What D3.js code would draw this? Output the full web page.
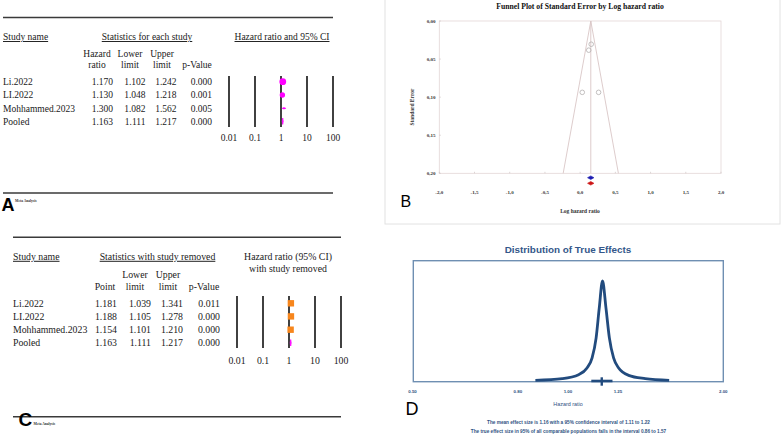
<!DOCTYPE html>
<html>
<head>
<meta charset="utf-8">
<script src="https://cdn.jsdelivr.net/npm/d3@7"></script>
<style>
  html, body { margin: 0; padding: 0; background: #fff; }
  svg { display: block; }
</style>
</head>
<body>
<svg id="chart" width="784" height="442"></svg>
<script>
// ---------------- DATA ----------------
// Panel A: statistics for each study
const studiesA = ["Li.2022", "LI.2022", "Mohhammed.2023", "Pooled"];
const hrA = [1.170, 1.130, 1.300, 1.163];
const lowerA = [1.102, 1.048, 1.082, 1.111];
const upperA = [1.242, 1.218, 1.562, 1.217];
const pA = ["0.000", "0.001", "0.005", "0.000"];
const weightsA = [57.6, 36.3, 6.1];

// Panel C: statistics with study removed
const studiesC = ["Li.2022", "LI.2022", "Mohhammed.2023", "Pooled"];
const pointC = [1.181, 1.188, 1.154, 1.163];
const lowerC = [1.039, 1.105, 1.101, 1.111];
const upperC = [1.341, 1.278, 1.210, 1.217];
const pC = ["0.011", "0.000", "0.000", "0.000"];

const forestTicks = [0.01, 0.1, 1, 10, 100];

// Panel B: funnel plot
const funnelLogHR = [0.157, 0.122, 0.262, 0.030];
const funnelSE = [0.0305, 0.0383, 0.0937, 0.0937];
const funnelMean = 0.151;
const funnelBottomLeft = -0.241;
const funnelBottomRight = 0.543;
const funnelSEmax = 0.20;
const pooledLogCI = [0.105, 0.196];
const funnelXTicks = [-2.0, -1.5, -1.0, -0.5, 0.0, 0.5, 1.0, 1.5, 2.0];
const funnelYTicks = [0.00, 0.05, 0.10, 0.15, 0.20];

// Panel D: distribution of true effects
const curveHR = [0.865, 0.975, 1.049, 1.089, 1.114, 1.134, 1.150, 1.167, 1.185, 1.203, 1.226, 1.254, 1.311, 1.412, 1.571];
const curveDensity = [0.0, 0.017, 0.057, 0.124, 0.225, 0.425, 0.726, 1.0, 0.729, 0.43, 0.225, 0.124, 0.05, 0.017, 0.0];
const distTicks = [0.5, 0.8, 1.0, 1.25, 2.0];
const distTickLabels = ["0.50", "0.80", "1.00", "1.25", "2.00"];
const meanEffect = 1.163;
const meanCI = [1.11, 1.22];

// ---------------- DRAW ----------------
const svg = d3.select("#chart");
const SERIF = "'Liberation Serif', 'Times New Roman', serif";
const SANS = "'Liberation Sans', Arial, sans-serif";

svg.append("rect").attr("width", 784).attr("height", 442).attr("fill", "#fff");

function drawForest(o) {
  const g = svg.append("g");
  const txt = (x, y, s, anchor, extra) => {
    const t = g.append("text").attr("x", x).attr("y", y).text(s)
      .attr("font-family", SERIF).attr("font-size", o.fs).attr("fill", "#1a1a1a")
      .attr("text-anchor", anchor || "start");
    if (extra) extra(t);
    return t;
  };
  const ul = t => t.attr("text-decoration", "underline");

  g.append("line").attr("x1", o.x0).attr("x2", o.x1).attr("y1", o.ruleTop).attr("y2", o.ruleTop)
    .attr("stroke", "#3a3a3a").attr("stroke-width", 1.6);
  g.append("line").attr("x1", o.x0).attr("x2", o.x1).attr("y1", o.ruleBottom).attr("y2", o.ruleBottom)
    .attr("stroke", "#3a3a3a").attr("stroke-width", 1.6);

  txt(o.x0, o.headY, "Study name", "start", ul);
  txt(o.groupX, o.headY, o.groupTitle, "middle", ul);
  o.plotTitle.forEach((s, i) => txt(o.plotTitleX, o.headY + i * 12.3, s, "middle", o.plotUnderline ? ul : null));

  o.cols.forEach(c => {
    c.head.forEach((h, i) => {
      const y = c.head.length === 2 ? o.sub1 + i * (o.sub2 - o.sub1) : o.sub2;
      txt(c.center, y, h, "middle");
    });
  });

  o.names.forEach((n, i) => {
    const y = o.rowY[i] + 3.3;
    txt(o.x0, y, n, "start");
    o.cols.forEach(c => txt(c.right, y, c.values[i], "end"));
  });

  // forest plot
  const x = d3.scaleLog().domain([0.01, 100]).range([o.fx0, o.fx1]);
  g.selectAll(null).data(forestTicks).enter().append("line")
    .attr("x1", d => x(d)).attr("x2", d => x(d))
    .attr("y1", o.vTop).attr("y2", o.vBottom)
    .attr("stroke", "#111").attr("stroke-width", 1.6);
  g.selectAll(null).data(forestTicks).enter().append("text")
    .attr("x", d => x(d)).attr("y", o.tickY).text(d => d)
    .attr("font-family", SERIF).attr("font-size", o.fs).attr("fill", "#1a1a1a")
    .attr("text-anchor", "middle");

  // study CIs
  for (let i = 0; i < 3; i++) {
    g.append("line").attr("x1", x(o.lo[i])).attr("x2", x(o.hi[i]))
      .attr("y1", o.rowY[i]).attr("y2", o.rowY[i])
      .attr("stroke", o.color).attr("stroke-width", 1);
  }
  if (o.shape === "circle") {
    const r = d3.scaleSqrt().domain([0, d3.max(o.weights)]).range([0, 3.4]);
    for (let i = 0; i < 3; i++) {
      g.append("circle").attr("cx", x(o.est[i])).attr("cy", o.rowY[i]).attr("r", Math.max(1.1, r(o.weights[i])))
        .attr("fill", o.color);
    }
  } else {
    for (let i = 0; i < 3; i++) {
      g.append("rect").attr("x", x(o.est[i]) - 3.2).attr("y", o.rowY[i] - 3.2)
        .attr("width", 6.4).attr("height", 6.4).attr("fill", o.color);
    }
  }
  // pooled diamond
  const py = o.rowY[3];
  g.append("path")
    .attr("d", `M${x(o.lo[3])},${py} L${x(o.est[3])},${py - 3.2} L${x(o.hi[3])},${py} L${x(o.est[3])},${py + 3.2} Z`)
    .attr("fill", "#ff00ff").attr("stroke", "#ff00ff").attr("stroke-width", 0.8);

  // panel letter and footer
  g.append("text").attr("x", o.metaX).attr("y", o.metaY).text("Meta Analysis")
    .attr("font-family", SERIF).attr("font-size", 3.6).attr("font-weight", "bold").attr("fill", "#333");
  g.append("text").attr("x", o.letterX).attr("y", o.letterY).text(o.letter)
    .attr("font-family", SANS).attr("font-size", o.letterSize).attr("font-weight", "bold").attr("fill", "#000");
}

drawForest({
  fs: 9.5, x0: 3, x1: 333, ruleTop: 17.5, ruleBottom: 193,
  headY: 40, groupX: 147, groupTitle: "Statistics for each study",
  plotTitle: ["Hazard ratio and 95% CI"], plotTitleX: 282, plotUnderline: true,
  sub1: 56.5, sub2: 67.8,
  cols: [
    { head: ["Hazard", "ratio"], center: 97, right: 113, values: hrA.map(d => d.toFixed(3)) },
    { head: ["Lower", "limit"], center: 130, right: 145.5, values: lowerA.map(d => d.toFixed(3)) },
    { head: ["Upper", "limit"], center: 162, right: 176.5, values: upperA.map(d => d.toFixed(3)) },
    { head: ["p-Value"], center: 197, right: 212, values: pA }
  ],
  names: studiesA, rowY: [81.7, 95, 108.3, 121.2],
  fx0: 229, fx1: 333, vTop: 76, vBottom: 127, tickY: 140.5,
  est: hrA, lo: lowerA, hi: upperA, weights: weightsA,
  shape: "circle", color: "#ff00ff",
  metaX: 15, metaY: 201.5, letter: "A", letterX: 1.5, letterY: 210.5, letterSize: 18
});

drawForest({
  fs: 9.8, x0: 13, x1: 341, ruleTop: 237.3, ruleBottom: 416.7,
  headY: 259.8, groupX: 157.5, groupTitle: "Statistics with study removed",
  plotTitle: ["Hazard ratio (95% CI)", "with study removed"], plotTitleX: 288, plotUnderline: false,
  sub1: 278.3, sub2: 289.5,
  cols: [
    { head: ["Point"], center: 105, right: 117, values: pointC.map(d => d.toFixed(3)) },
    { head: ["Lower", "limit"], center: 135, right: 151, values: lowerC.map(d => d.toFixed(3)) },
    { head: ["Upper", "limit"], center: 168, right: 183, values: upperC.map(d => d.toFixed(3)) },
    { head: ["p-Value"], center: 204, right: 220, values: pC }
  ],
  names: studiesC, rowY: [303.3, 316.4, 329.7, 342.8],
  fx0: 237, fx1: 341, vTop: 296, vBottom: 348, tickY: 363.5,
  est: pointC, lo: lowerC, hi: upperC,
  shape: "square", color: "#f7861c",
  metaX: 33.5, metaY: 424.5, letter: "C", letterX: 18.5, letterY: 426, letterSize: 19
});

// ---------------- Panel B: funnel plot ----------------
(function () {
  const g = svg.append("g");
  const commaFmt = (v, d) => v.toFixed(d).replace(".", ",");
  g.append("rect").attr("x", 385).attr("y", -1).attr("width", 395).attr("height", 225)
    .attr("fill", "none").attr("stroke", "#e2e2e2").attr("stroke-width", 1);

  const x = d3.scaleLinear().domain([-2, 2]).range([439.3, 721]);
  const y = d3.scaleLinear().domain([0, 0.2]).range([21, 173.3]);

  g.append("text").attr("x", 580).attr("y", 8.8).text("Funnel Plot of Standard Error by Log hazard ratio")
    .attr("font-family", SERIF).attr("font-size", 7.7).attr("font-weight", "bold")
    .attr("text-anchor", "middle").attr("fill", "#111");

  g.append("rect").attr("x", x(-2)).attr("y", y(0)).attr("width", x(2) - x(-2)).attr("height", y(0.2) - y(0))
    .attr("fill", "none").attr("stroke", "#e3d6d6").attr("stroke-width", 0.8);

  // ticks
  g.selectAll(null).data(funnelXTicks).enter().append("line")
    .attr("x1", d => x(d)).attr("x2", d => x(d)).attr("y1", y(0.2)).attr("y2", y(0.2) - 1.5)
    .attr("stroke", "#cfc4c4").attr("stroke-width", 0.7);
  g.selectAll(null).data(funnelYTicks).enter().append("line")
    .attr("x1", x(-2)).attr("x2", x(-2) + 1.5).attr("y1", d => y(d)).attr("y2", d => y(d))
    .attr("stroke", "#cfc4c4").attr("stroke-width", 0.7);

  g.selectAll(null).data(funnelXTicks).enter().append("text")
    .attr("x", d => x(d)).attr("y", 194.2).text(d => commaFmt(d, 1))
    .attr("font-family", SERIF).attr("font-size", 5).attr("font-weight", "bold")
    .attr("text-anchor", "middle").attr("fill", "#333");
  g.selectAll(null).data(funnelYTicks).enter().append("text")
    .attr("x", 435.5).attr("y", d => y(d) + 1.8).text(d => commaFmt(d, 2))
    .attr("font-family", SERIF).attr("font-size", 5).attr("font-weight", "bold")
    .attr("text-anchor", "end").attr("fill", "#333");

  // funnel
  const fc = "#d9c6c6";
  g.append("line").attr("x1", x(funnelMean)).attr("x2", x(funnelMean)).attr("y1", y(0)).attr("y2", y(funnelSEmax))
    .attr("stroke", fc).attr("stroke-width", 0.9);
  g.append("line").attr("x1", x(funnelMean)).attr("x2", x(funnelBottomLeft)).attr("y1", y(0)).attr("y2", y(funnelSEmax))
    .attr("stroke", fc).attr("stroke-width", 0.9);
  g.append("line").attr("x1", x(funnelMean)).attr("x2", x(funnelBottomRight)).attr("y1", y(0)).attr("y2", y(funnelSEmax))
    .attr("stroke", fc).attr("stroke-width", 0.9);

  // points
  g.selectAll(null).data(funnelLogHR).enter().append("circle")
    .attr("cx", d => x(d)).attr("cy", (d, i) => y(funnelSE[i])).attr("r", 2.3)
    .attr("fill", "none").attr("stroke", "#b4b0b0").attr("stroke-width", 0.8);

  // pooled diamonds
  [[177.7, "#1b1bb0"], [183.3, "#cc1616"]].forEach(([cy, col]) => {
    g.append("path")
      .attr("d", `M${x(pooledLogCI[0])},${cy} L${x(funnelMean)},${cy - 1.8} L${x(pooledLogCI[1])},${cy} L${x(funnelMean)},${cy + 1.8} Z`)
      .attr("fill", col).attr("stroke", col).attr("stroke-width", 0.6);
  });

  g.append("text").attr("transform", "translate(414,107) rotate(-90)").text("Standard Error")
    .attr("font-family", SERIF).attr("font-size", 5.5).attr("font-weight", "bold")
    .attr("text-anchor", "middle").attr("fill", "#333");
  g.append("text").attr("x", 580).attr("y", 212.5).text("Log hazard ratio")
    .attr("font-family", SERIF).attr("font-size", 5.5).attr("font-weight", "bold")
    .attr("text-anchor", "middle").attr("fill", "#333");

  g.append("text").attr("x", 400.5).attr("y", 206.5).text("B")
    .attr("font-family", SANS).attr("font-size", 16).attr("fill", "#000");
})();

// ---------------- Panel D: distribution of true effects ----------------
(function () {
  const g = svg.append("g");
  const blue = "#2f5282";
  const x = d3.scaleLog().domain([0.5, 2]).range([412.5, 723.3]);
  const y = d3.scaleLinear().domain([0, 1]).range([380.3, 281]);

  g.append("text").attr("x", 568).attr("y", 252.8).text("Distribution of True Effects")
    .attr("font-family", SANS).attr("font-size", 9.9).attr("font-weight", "bold")
    .attr("text-anchor", "middle").attr("fill", "#34578a");

  g.append("rect").attr("x", 413.3).attr("y", 260.7).attr("width", 310).attr("height", 121)
    .attr("fill", "none").attr("stroke", "#6f8fb2").attr("stroke-width", 1.4);

  const line = d3.line().x((d, i) => x(curveHR[i])).y(d => y(d)).curve(d3.curveMonotoneX);
  g.append("path").attr("d", line(curveDensity))
    .attr("fill", "none").attr("stroke", "#224b7e").attr("stroke-width", 2.8).attr("stroke-linejoin", "round");

  // mean and CI
  g.append("line").attr("x1", x(meanCI[0])).attr("x2", x(meanCI[1])).attr("y1", 381).attr("y2", 381)
    .attr("stroke", "#224b7e").attr("stroke-width", 2.6);
  g.append("line").attr("x1", x(meanEffect)).attr("x2", x(meanEffect)).attr("y1", 377.3).attr("y2", 385.7)
    .attr("stroke", "#224b7e").attr("stroke-width", 2.4);

  g.selectAll(null).data(distTicks).enter().append("text")
    .attr("x", d => x(d)).attr("y", 392.6).text((d, i) => distTickLabels[i])
    .attr("font-family", SANS).attr("font-size", 4.4).attr("font-weight", "bold")
    .attr("text-anchor", "middle").attr("fill", blue);

  g.append("text").attr("x", 568).attr("y", 405.6).text("Hazard ratio")
    .attr("font-family", SANS).attr("font-size", 5.4).attr("text-anchor", "middle").attr("fill", blue);

  g.append("text").attr("x", 568.5).attr("y", 424.2)
    .text("The mean effect size is 1.16 with a 95% confidence interval of 1.11 to 1.22")
    .attr("font-family", SANS).attr("font-size", 4.7).attr("font-weight", "bold")
    .attr("text-anchor", "middle").attr("fill", blue);
  g.append("text").attr("x", 568.5).attr("y", 432.8)
    .text("The true effect size in 95% of all comparable populations falls in the interval 0.86 to 1.57")
    .attr("font-family", SANS).attr("font-size", 4.7).attr("font-weight", "bold")
    .attr("text-anchor", "middle").attr("fill", blue);

  g.append("text").attr("x", 405.5).attr("y", 415.3).text("D")
    .attr("font-family", SANS).attr("font-size", 18).attr("fill", "#000");
})();
</script>
</body>
</html>
